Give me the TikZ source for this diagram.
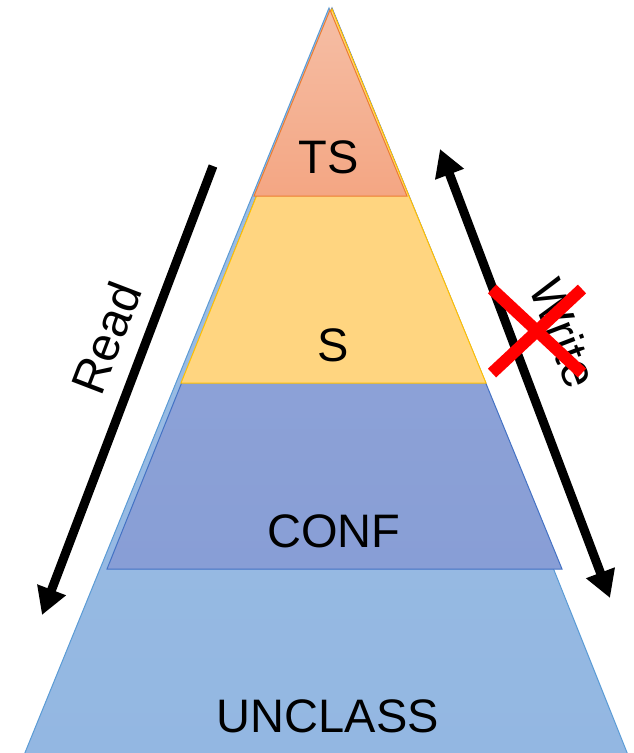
\documentclass[tikz,border=0pt]{standalone}
\usepackage{fontspec}
\setmainfont{Liberation Sans}
\usetikzlibrary{arrows.meta}
\definecolor{unclT}{RGB}{158,191,228}
\definecolor{unclB}{RGB}{147,183,226}
\definecolor{unclD}{RGB}{91,155,213}
\definecolor{confT}{RGB}{149,168,216}
\definecolor{confB}{RGB}{136,158,214}
\definecolor{confD}{RGB}{68,114,196}
\definecolor{secF}{RGB}{255,213,128}
\definecolor{secD}{RGB}{255,192,0}
\definecolor{tsT}{RGB}{245,190,165}
\definecolor{tsB}{RGB}{244,166,131}
\definecolor{tsD}{RGB}{237,125,49}
\tikzset{
  lbl/.style={inner sep=0pt, font=\fontsize{47}{47}\selectfont},
  side/.style={inner sep=0pt, font=\fontsize{48}{48}\selectfont},
  flow/.style={line width=9pt, -{Triangle[length=27pt,width=29pt]}},
  flowboth/.style={line width=9pt, {Triangle[length=27pt,width=29pt]}-{Triangle[length=27pt,width=29pt]}},
  cross/.style={line width=12pt, draw={rgb,255:red,255;green,0;blue,0}}
}
\begin{document}
\begin{tikzpicture}[x=1pt,y=-1pt]
\useasboundingbox (0,0) rectangle (634,753);
% layers
\path[draw=unclD, line width=1pt, top color=unclT, bottom color=unclB]
  (329,8) -- (630,760) -- (22,760) -- cycle;
\path[draw=confD, line width=1pt, top color=confT, bottom color=confB]
  (332,8) -- (562,569) -- (107,569) -- cycle;
\path[draw=secD, line width=1pt, fill=secF]
  (332,9) -- (486,383) -- (181,383) -- cycle;
\path[draw=tsD, line width=1pt, top color=tsT, bottom color=tsB]
  (330,10) -- (407,196) -- (254,196) -- cycle;
% labels
\node[lbl] (ts) at (329,157) {TS};
\node[lbl] (s) at (333,345) {S};
\node[lbl] (conf) at (334,531) {CONF};
\node[lbl] (uncl) at (328,716) {UNCLASS};
% arrows
\coordinate (rtop) at (213,166);
\coordinate (rbot) at (42,615);
\coordinate (wbot) at (610,598);
\coordinate (wtop) at (440,149);
\draw[flow] (rtop) -- (rbot);
\draw[flowboth] (wbot) -- (wtop);
\node[side, rotate=69] (read) at (106,338) {Read};
\node[side, rotate=-69] (write) at (564,333) {Write};
% cross
\coordinate (xa) at (492,289);
\coordinate (xb) at (582,373);
\coordinate (xc) at (492,373);
\coordinate (xd) at (582,289);
\draw[cross] (xa) -- (xb);
\draw[cross] (xc) -- (xd);
\end{tikzpicture}
\end{document}
